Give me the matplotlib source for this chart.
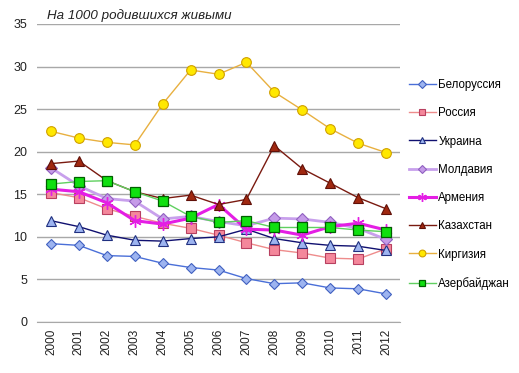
import matplotlib
matplotlib.use("Agg")
import matplotlib.pyplot as plt

years = ["2000", "2001", "2002", "2003", "2004", "2005", "2006",
         "2007", "2008", "2009", "2010", "2011", "2012"]

belarus = [9.2, 9.0, 7.8, 7.7, 6.9, 6.4, 6.1, 5.1, 4.5, 4.6, 4.0, 3.9, 3.3]
russia = [15.2, 14.6, 13.3, 12.4, 11.6, 11.0, 10.2, 9.3, 8.5, 8.1, 7.5, 7.4, 8.6]
ukraine = [11.9, 11.2, 10.2, 9.6, 9.5, 9.8, 10.0, 10.9, 9.8, 9.3, 9.0, 8.9, 8.4]
moldova = [18.1, 16.0, 14.5, 14.2, 12.1, 12.4, 11.8, 11.3, 12.2, 12.1, 11.7, 11.0, 9.7]
armenia = [15.6, 15.3, 14.0, 11.9, 11.5, 12.2, 13.8, 10.9, 10.8, 10.2, 11.2, 11.6, 10.8]
kazakhstan = [18.6, 18.9, 16.6, 15.3, 14.5, 14.9, 13.8, 14.4, 20.7, 18.0, 16.3, 14.6, 13.3]
kyrgyzstan = [22.4, 21.6, 21.1, 20.8, 25.6, 29.6, 29.1, 30.5, 27.0, 24.9, 22.7, 21.0, 19.9]
azerbaijan = [16.2, 16.5, 16.6, 15.3, 14.2, 12.4, 11.7, 11.9, 11.1, 11.1, 11.1, 10.8, 10.6]

names = ["Белоруссия", "Россия", "Украина", "Молдавия", "Армения",
         "Казахстан", "Киргизия", "Азербайджан"]
series = [belarus, russia, ukraine, moldova, armenia, kazakhstan, kyrgyzstan, azerbaijan]

styles = [
    dict(color="#4A6FD8", lw=1.0, marker="D", ms=5.5, mfc="#9DB4F0", mec="#4060C0", mew=0.8),
    dict(color="#EE8C8C", lw=1.0, marker="s", ms=6.5, mfc="#F4879B", mec="#B84060", mew=0.8),
    dict(color="#101070", lw=1.0, marker="^", ms=6.5, mfc="#9DB4F0", mec="#203080", mew=0.8),
    dict(color="#C8A0EC", lw=2.0, marker="D", ms=6.5, mfc="#C59BE8", mec="#9060C0", mew=0.8),
    dict(color="#E41EE4", lw=2.2, marker=(6, 2, 0), ms=9, mfc="#E41EE4", mec="#E41EE4", mew=1.0),
    dict(color="#7A1A10", lw=1.0, marker="^", ms=7, mfc="#A02810", mec="#601008", mew=0.8),
    dict(color="#E8B040", lw=1.0, marker="o", ms=7, mfc="#FFE800", mec="#D0A000", mew=0.8),
    dict(color="#60D060", lw=1.0, marker="s", ms=7, mfc="#10E010", mec="#006000", mew=0.9),
]

plt.rcParams['font.family'] = ['Liberation Sans', 'DejaVu Sans']

fig = plt.figure(figsize=(5.19, 3.73), dpi=100)
fig.patch.set_facecolor("white")
ax = fig.add_axes([37 / 519, 51 / 373, 363 / 519, 298 / 373])

x = list(range(len(years)))
for name, vals, st in zip(names, series, styles):
    ax.plot(x, vals, label=name, **st)

ax.set_xlim(-0.5, len(years) - 0.5)
ax.set_ylim(0, 35)
ax.set_yticks([0, 5, 10, 15, 20, 25, 30, 35])
ax.set_xticks(x)
ax.set_xticklabels(years, rotation=90, fontsize=8.5, color="#222222")
ax.tick_params(axis="y", labelsize=9, colors="#222222", length=0, pad=7)
ax.tick_params(axis="x", length=0, pad=5)
ax.yaxis.grid(True, color="#A8A8A8", lw=1.0)
ax.set_axisbelow(True)
for s in ["left", "right", "top"]:
    ax.spines[s].set_visible(False)
ax.spines["bottom"].set_color("#A8A8A8")

ax.text(0.028, 1.008, "На 1000 родившихся живыми", transform=ax.transAxes,
        fontsize=9.6, style="italic", color="#222222", va="bottom", ha="left")

leg = ax.legend(loc="upper left", bbox_to_anchor=(409 / 519, 1 - 79 / 373),
                bbox_transform=fig.transFigure, frameon=False, fontsize=8.3,
                labelspacing=1.41, handlelength=2.3, handletextpad=0.25,
                borderpad=0, borderaxespad=0, markerscale=0.7)

fig.savefig("out.png", dpi=100, facecolor="white")
